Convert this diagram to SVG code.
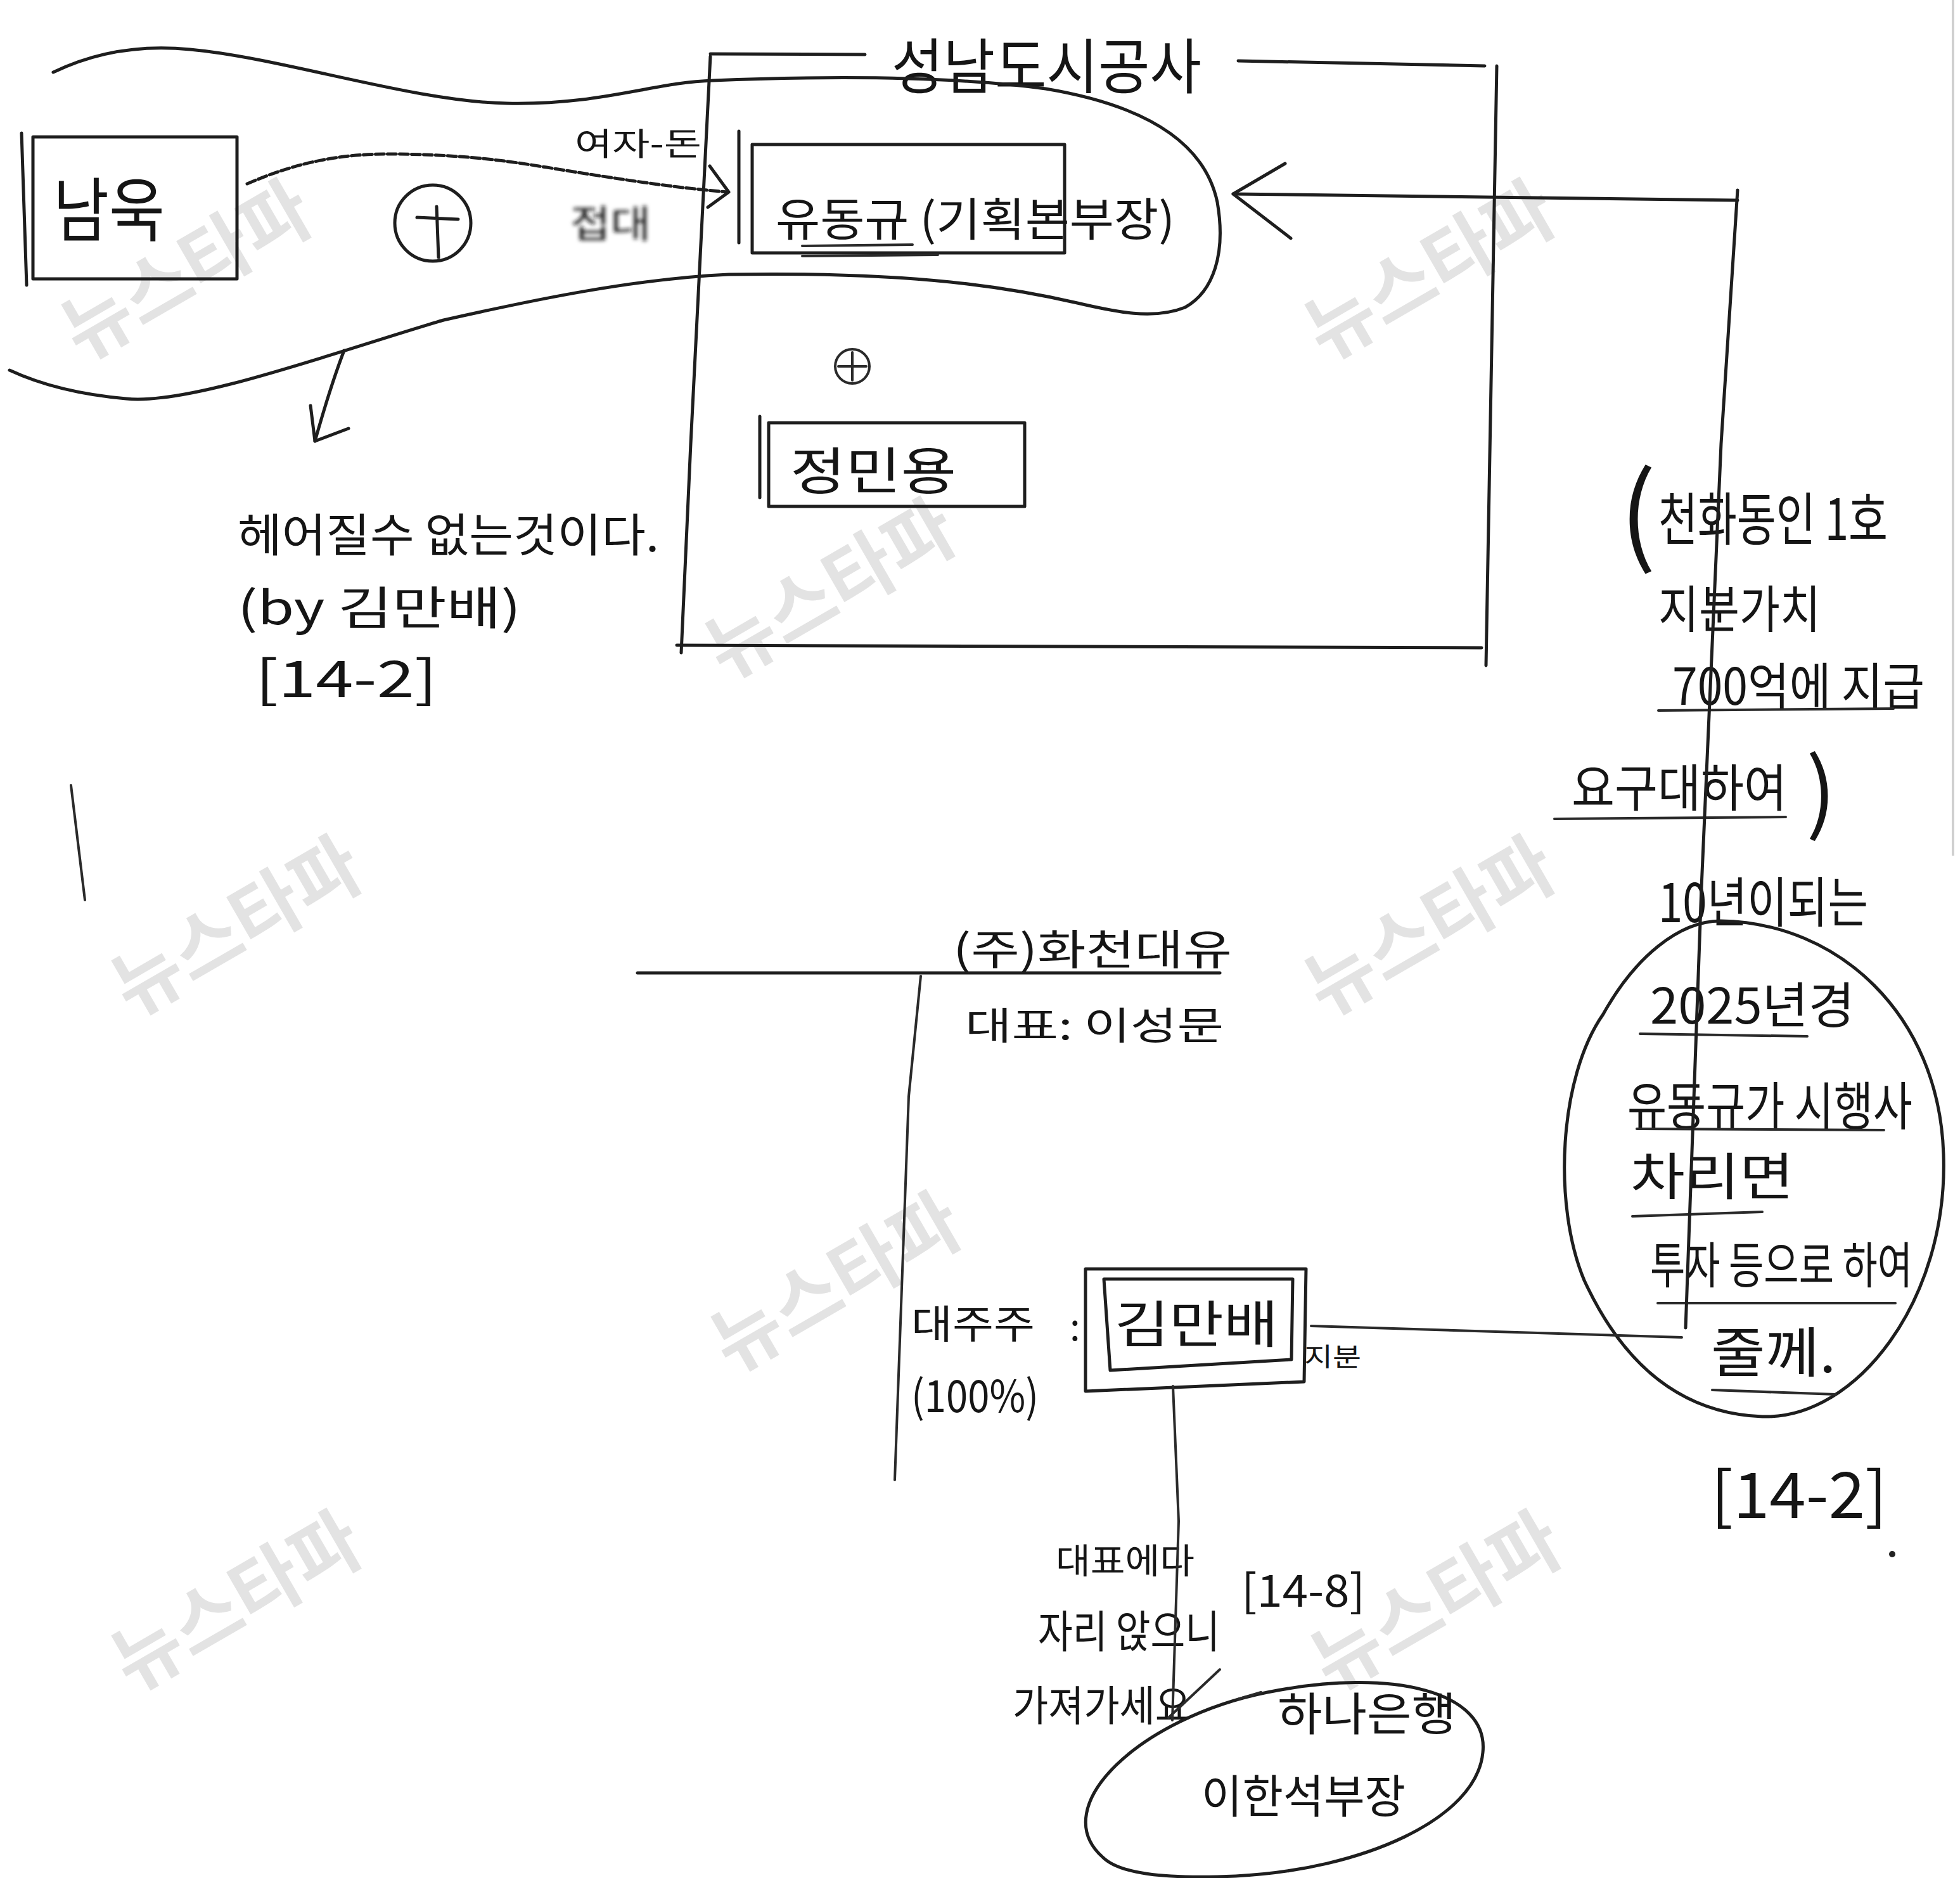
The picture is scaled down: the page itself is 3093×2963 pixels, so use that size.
<svg xmlns="http://www.w3.org/2000/svg" width="3093" height="2963" viewBox="0 0 3093 2963">
<defs>
<style>
.ln{fill:none;stroke:#1e1e1e;stroke-width:5;stroke-linecap:round;stroke-linejoin:round}
.thin{fill:none;stroke:#2a2a2a;stroke-width:4;stroke-linecap:round}
.t{font-family:"Noto Sans CJK KR","Noto Sans",sans-serif;fill:#151515}
.wm{font-family:"Noto Sans CJK KR",sans-serif;font-weight:700;fill:#e3e3e3;font-size:120px}
</style>
<filter id="smudge"><feGaussianBlur stdDeviation="3"/></filter>
</defs>
<rect width="3093" height="2963" fill="#ffffff"/>
<g id="watermarks">
<text class="wm" x="316" y="464" text-anchor="middle" textLength="430" lengthAdjust="spacingAndGlyphs" transform="rotate(-30 316 464)">뉴스타파</text>
<text class="wm" x="2278" y="464" text-anchor="middle" textLength="430" lengthAdjust="spacingAndGlyphs" transform="rotate(-30 2278 464)">뉴스타파</text>
<text class="wm" x="1332" y="967" text-anchor="middle" textLength="430" lengthAdjust="spacingAndGlyphs" transform="rotate(-30 1332 967)">뉴스타파</text>
<text class="wm" x="395" y="1499" text-anchor="middle" textLength="430" lengthAdjust="spacingAndGlyphs" transform="rotate(-30 395 1499)">뉴스타파</text>
<text class="wm" x="2278" y="1499" text-anchor="middle" textLength="430" lengthAdjust="spacingAndGlyphs" transform="rotate(-30 2278 1499)">뉴스타파</text>
<text class="wm" x="1341" y="2061" text-anchor="middle" textLength="430" lengthAdjust="spacingAndGlyphs" transform="rotate(-30 1341 2061)">뉴스타파</text>
<text class="wm" x="395" y="2564" text-anchor="middle" textLength="430" lengthAdjust="spacingAndGlyphs" transform="rotate(-30 395 2564)">뉴스타파</text>
<text class="wm" x="2288" y="2564" text-anchor="middle" textLength="430" lengthAdjust="spacingAndGlyphs" transform="rotate(-30 2288 2564)">뉴스타파</text>
</g>
<line x1="3082" y1="0" x2="3082" y2="1350" stroke="#d0d0d0" stroke-width="4"/>
<line x1="112" y1="1239" x2="134" y2="1420" class="thin"/>

<g id="seongnam-corp">
<path class="ln" d="M1121,85 L1365,86"/>
<path class="ln" d="M1954,96 L2343,104"/>
<path class="ln" d="M1121,89 L1090,700 L1075,1030"/>
<path class="ln" d="M2362,104 L2345,1050"/>
<path class="ln" d="M1068,1018 L2338,1022"/>
<text class="t" x="1407" y="140" font-size="95" textLength="489" lengthAdjust="spacingAndGlyphs">성남도시공사</text>
</g>

<g id="alliance-blob">
<path class="ln" d="M84,114 C150,82 220,70 300,78 C450,92 650,160 800,163 C950,166 1030,130 1125,127 C1300,120 1500,120 1650,140 C1800,165 1900,220 1921,319 C1935,400 1915,460 1870,485 C1820,505 1760,492 1700,478 C1600,455 1450,428 1150,433 C1000,440 842,473 700,505 C536,553 300,640 199,629 C120,622 60,605 15,584"/>
</g>

<g id="namwook">
<rect class="ln" x="52" y="216" width="322" height="224" fill="none"/>
<path class="ln" d="M34,210 L42,450"/>
<text class="t" x="84" y="372" font-size="110" textLength="176" lengthAdjust="spacingAndGlyphs">남욱</text>
</g>

<g id="plus-1">
<circle cx="683" cy="352" r="60" class="ln"/>
<path class="ln" d="M689,326 L692,406 M658,343 L723,346"/>
</g>

<g id="yoodonggyu">
<rect class="ln" x="1187" y="228" width="493" height="171" fill="none"/>
<path class="ln" d="M1166,207 L1166,383"/>
<text class="t" x="1224" y="372" font-size="72" textLength="630" lengthAdjust="spacingAndGlyphs">유동규 (기획본부장)</text>
<path class="thin" d="M1266,388 L1440,386 M1266,404 L1480,402"/>
</g>

<g id="plus-2">
<circle cx="1345" cy="578" r="27" class="thin"/>
<path class="thin" d="M1345,556 L1345,600 M1323,578 L1367,578"/>
</g>

<g id="jungminyong">
<rect class="ln" x="1213" y="667" width="404" height="132" fill="none"/>
<path class="ln" d="M1199,657 L1199,785"/>
<text class="t" x="1247" y="772" font-size="80" textLength="262" lengthAdjust="spacingAndGlyphs">정민용</text>
</g>

<g id="note-left">
<text class="t" x="375" y="870" font-size="72" textLength="665" lengthAdjust="spacingAndGlyphs">헤어질수 없는것이다.</text>
<text class="t" x="375" y="985" font-size="72" textLength="447" lengthAdjust="spacingAndGlyphs">(by 김만배)</text>
<text class="t" x="403" y="1100" font-size="80" textLength="287" lengthAdjust="spacingAndGlyphs">[14-2]</text>
</g>

<g id="hwacheon">
<text class="t" x="1504" y="1522" font-size="66" textLength="440" lengthAdjust="spacingAndGlyphs">(주)화천대유</text>
<text class="t" x="1523" y="1640" font-size="60" textLength="408" lengthAdjust="spacingAndGlyphs">대표: 이성문</text>
</g>

<g id="kimmanbae">
<path class="ln" d="M1713,2002 L2061,2002 L2058,2180 L1713,2195 Z"/>
<path class="ln" d="M1742,2018 L2040,2018 L2038,2145 L1752,2162 Z"/>
<text class="t" x="1759" y="2118" font-size="80" textLength="258" lengthAdjust="spacingAndGlyphs">김만배</text>
<text class="t" x="2058" y="2155" font-size="40" textLength="90" lengthAdjust="spacingAndGlyphs">지분</text>
</g>

<g id="major-shareholder">
<text class="t" x="1438" y="2112" font-size="62" textLength="195" lengthAdjust="spacingAndGlyphs">대주주</text>
<text class="t" x="1438" y="2228" font-size="70" textLength="201" lengthAdjust="spacingAndGlyphs">(100%)</text>
<text class="t" x="1688" y="2115" font-size="60">:</text>
</g>

<g id="note-right">
<text class="t" x="2556" y="872" font-size="170">(</text>
<text class="t" x="2617" y="852" font-size="90" textLength="362" lengthAdjust="spacingAndGlyphs">천화동인 1호</text>
<text class="t" x="2617" y="990" font-size="80" textLength="256" lengthAdjust="spacingAndGlyphs">지분가치</text>
<text class="t" x="2639" y="1112" font-size="80" textLength="398" lengthAdjust="spacingAndGlyphs">700억에 지급</text>
<path class="thin" d="M2617,1121 L2988,1118"/>
<text class="t" x="2480" y="1272" font-size="80" textLength="340" lengthAdjust="spacingAndGlyphs">요구대하여</text>
<text class="t" x="2850" y="1300" font-size="140">)</text>
<path class="thin" d="M2453,1292 L2818,1289"/>
<text class="t" x="2617" y="1455" font-size="85" textLength="331" lengthAdjust="spacingAndGlyphs">10년이되는</text>
</g>

<g id="promise-circle">
<path class="ln" d="M2715,1453 C2900,1455 3060,1600 3067,1821 C3075,2050 2930,2240 2781,2235 C2650,2230 2560,2150 2500,2020 C2450,1900 2460,1700 2530,1600 C2580,1510 2650,1453 2715,1453 Z"/>
<text class="t" x="2604" y="1615" font-size="78" textLength="323" lengthAdjust="spacingAndGlyphs">2025년경</text>
<path class="thin" d="M2588,1631 L2852,1635"/>
<text class="t" x="2568" y="1775" font-size="82" textLength="450" lengthAdjust="spacingAndGlyphs">유동규가 시행사</text>
<path class="thin" d="M2583,1781 L2973,1783"/>
<text class="t" x="2573" y="1885" font-size="80" textLength="258" lengthAdjust="spacingAndGlyphs">차리면</text>
<path class="thin" d="M2576,1919 L2781,1912"/>
<text class="t" x="2604" y="2025" font-size="78" textLength="414" lengthAdjust="spacingAndGlyphs">투자 등으로 하여</text>
<path class="thin" d="M2616,2056 L2991,2056"/>
<text class="t" x="2700" y="2165" font-size="85" textLength="197" lengthAdjust="spacingAndGlyphs">줄께.</text>
<path class="thin" d="M2702,2193 L2897,2200"/>
</g>

<g id="ref-14-2-right">
<text class="t" x="2700" y="2395" font-size="100" textLength="278" lengthAdjust="spacingAndGlyphs">[14-2]</text>
<circle cx="2986" cy="2452" r="5" fill="#222"/>
</g>

<g id="note-bottom">
<text class="t" x="1666" y="2482" font-size="55" textLength="219" lengthAdjust="spacingAndGlyphs">대표에다</text>
<text class="t" x="1638" y="2600" font-size="70" textLength="287" lengthAdjust="spacingAndGlyphs">자리 앉으니</text>
<text class="t" x="1598" y="2715" font-size="66" textLength="281" lengthAdjust="spacingAndGlyphs">가져가세요</text>
<text class="t" x="1959" y="2535" font-size="70" textLength="195" lengthAdjust="spacingAndGlyphs">[14-8]</text>
</g>

<g id="hana-bank">
<path class="ln" d="M1740,2930 C1650,2850 1800,2710 2000,2670 C2200,2630 2350,2670 2340,2765 C2330,2870 2150,2950 1950,2960 C1830,2965 1765,2955 1740,2930 Z"/>
<text class="t" x="2016" y="2730" font-size="72" textLength="282" lengthAdjust="spacingAndGlyphs">하나은행</text>
<text class="t" x="1896" y="2860" font-size="72" textLength="322" lengthAdjust="spacingAndGlyphs">이한석부장</text>
</g>

<g id="connectors">
<path class="ln" d="M390,290 C470,255 540,243 612,243 C690,243 765,248 850,262 C950,278 1050,295 1148,303" stroke-dasharray="14 5"/>
<path class="ln" d="M1120,262 L1150,303 L1117,327"/>
<text class="t" x="907" y="245" font-size="50" textLength="200" lengthAdjust="spacingAndGlyphs">여자-돈</text>
<text class="t" x="900" y="375" font-size="60" textLength="127" lengthAdjust="spacingAndGlyphs" fill="#333" filter="url(#smudge)">접대</text>
<path class="ln" d="M543,553 C525,600 510,650 497,696"/>
<path class="ln" d="M490,640 L497,696 L550,676"/>
<path class="ln" d="M2742,316 L1946,306"/>
<path class="ln" d="M2028,258 L1946,306 L2037,376"/>
<path class="ln" d="M2742,300 L2716,700 L2685,1400 L2660,2095"/>
<path class="thin" d="M2069,2092 L2654,2110"/>
<path class="ln" d="M1006,1535 L1925,1535"/>
<path class="thin" d="M1453,1540 L1434,1730 L1412,2335"/>
<path class="thin" d="M1851,2187 L1860,2400 L1850,2714"/>
<path class="thin" d="M1844,2710 L1925,2634"/>
<path class="thin" d="M1953,2681 L1990,2670"/>
</g>
</svg>
